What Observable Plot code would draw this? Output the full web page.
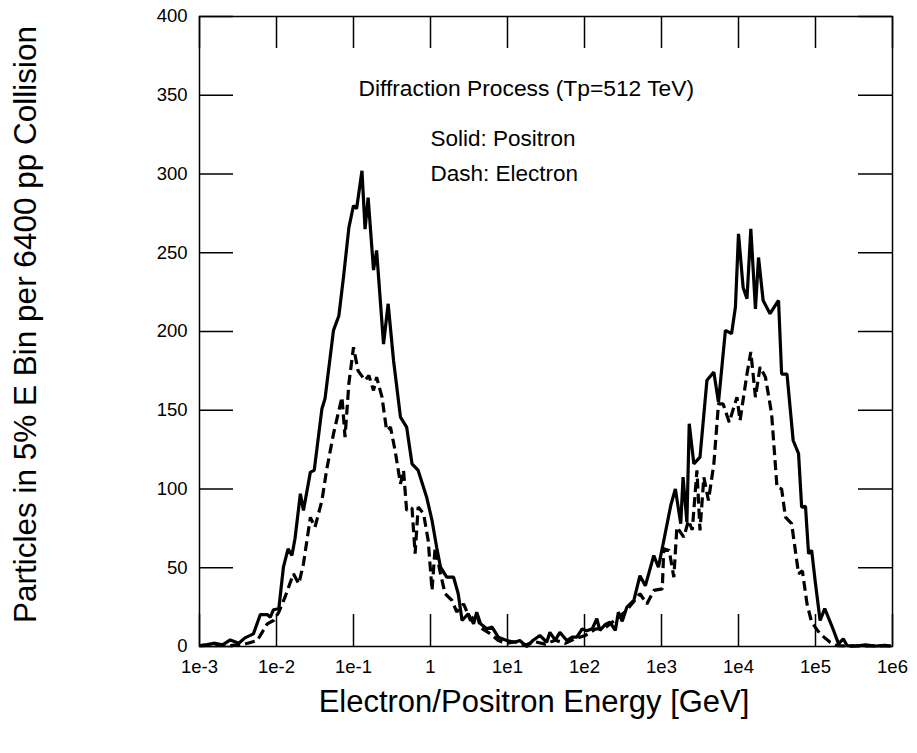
<!DOCTYPE html>
<html><head><meta charset="utf-8">
<script src="https://cdn.jsdelivr.net/npm/d3@7"></script>
<script src="https://cdn.jsdelivr.net/npm/@observablehq/plot@0.6"></script>
<style>html,body{margin:0;padding:0;background:#fff;} svg{display:block}</style>
</head><body><div id="chart"></div>
<script>
const xTicks = [1e-3, 1e-2, 1e-1, 1, 1e1, 1e2, 1e3, 1e4, 1e5, 1e6];
const xTickLabels = ["1e-3", "1e-2", "1e-1", "1", "1e1", "1e2", "1e3", "1e4", "1e5", "1e6"];
const yTicks = [0, 50, 100, 150, 200, 250, 300, 350, 400];

const xTitle = "Electron/Positron Energy [GeV]";
const yTitle = "Particles in 5% E Bin per 6400 pp Collision";
const notes = ["Diffraction Process (Tp=512 TeV)", "Solid: Positron", "Dash: Electron"];

// log10 of energy (GeV) and counts
const positronLogE = [-2.99,-2.90,-2.80,-2.70,-2.60,-2.49,-2.41,-2.30,-2.21,-2.12,-2.08,-2.04,-1.97,-1.91,-1.85,-1.80,-1.76,-1.69,-1.65,-1.56,-1.51,-1.41,-1.37,-1.26,-1.19,-1.13,-1.06,-1.00,-0.96,-0.89,-0.85,-0.81,-0.74,-0.70,-0.61,-0.55,-0.48,-0.39,-0.31,-0.24,-0.16,-0.05,0.02,0.08,0.13,0.21,0.30,0.36,0.41,0.49,0.56,0.60,0.65,0.73,0.80,0.88,0.99,1.10,1.16,1.25,1.33,1.42,1.51,1.55,1.62,1.68,1.77,1.84,1.90,1.97,2.03,2.10,2.16,2.20,2.27,2.33,2.40,2.44,2.49,2.55,2.64,2.72,2.79,2.90,2.96,3.03,3.12,3.18,3.25,3.28,3.33,3.36,3.42,3.50,3.59,3.68,3.74,3.83,3.91,3.96,4.00,4.06,4.11,4.16,4.22,4.26,4.32,4.41,4.52,4.56,4.63,4.71,4.78,4.82,4.87,4.91,4.95,5.00,5.06,5.12,5.21,5.30,5.36,5.41,5.52,5.65,5.78,5.90,5.98];
const positronCounts = [0.6,1.2,2.1,1.0,4.2,2.1,5.5,8,20.3,20.3,18.6,23.3,24,50.4,62,57.8,68.4,97,86.4,110.7,111.8,151,157.3,200.7,210,234.5,266,280,278,302,265,285,239,251.5,192,217.6,181.6,145.6,139.3,116,111.8,94.8,80,63,50.4,44,44,33.5,16.5,20.8,14.4,21.8,14.4,11.2,12.3,5.9,3.8,2.7,3.8,0,3.8,7,2.7,9,4,9,3.8,5.9,5.9,11.2,10,11.2,17.6,10.2,14,15.4,10.2,21.8,16,25,29.2,45,38.5,57.8,50.4,67.3,89.5,100,78,107.5,79,141.4,116,120.2,169,174.2,155,200.7,198.6,215.5,262,228,220.8,265.2,214.4,247,219.7,211.3,219.7,173,173,130.8,122.4,88.5,89,58.9,61,39.8,16.5,24,13.3,1.7,4.9,0.6,0.3,1,0.3,0.8,0.3];

const electronLogE = [-2.99,-2.80,-2.60,-2.41,-2.25,-2.12,-2.04,-1.97,-1.89,-1.78,-1.71,-1.65,-1.56,-1.50,-1.41,-1.35,-1.26,-1.15,-1.11,-1.06,-1.00,-0.94,-0.85,-0.80,-0.74,-0.70,-0.63,-0.57,-0.52,-0.46,-0.39,-0.35,-0.31,-0.24,-0.20,-0.16,-0.09,-0.03,0.02,0.06,0.13,0.19,0.28,0.34,0.43,0.52,0.60,0.65,0.78,0.88,0.99,1.10,1.23,1.36,1.49,1.62,1.75,1.88,2.01,2.14,2.27,2.40,2.53,2.63,2.72,2.81,2.90,3.01,3.03,3.10,3.16,3.20,3.29,3.35,3.40,3.46,3.50,3.55,3.61,3.68,3.74,3.80,3.88,3.98,4.02,4.11,4.16,4.22,4.28,4.35,4.43,4.50,4.56,4.61,4.69,4.78,4.83,4.89,4.95,5.06,5.19,5.28,5.45,5.71,5.98];
const electronCounts = [0.5,1,0.5,1.5,3.8,14.4,16.5,21.8,31.3,46.2,39.8,52.5,82,75.8,92.7,111.8,135,158.3,133,167,190,175,169,172,162.6,171,158.3,137.2,139.3,124.5,103.3,111.8,86.4,88,58.9,88.5,84.3,67.3,35.6,63,46.2,33.5,29.2,22,27,16.5,20.8,12,8,3.8,2,3,1,3,1.5,4,2,5,7,11,12,17,22,28,33.5,27,35.6,36.6,62,61,44,75.8,69.4,80,74,111.8,73.7,107.5,92.7,116,154,154,142.4,158.3,143.5,173,187,158.3,177.4,171,147.8,101,100,82.1,78,46.2,48,27,15.4,8,2.7,0.6,0.3,0.5,0.3];

const positron = positronLogE.map((l, i) => ({E: Math.pow(10, l), n: positronCounts[i]}));
const electron = electronLogE.map((l, i) => ({E: Math.pow(10, l), n: electronCounts[i]}));

const W = 917, H = 753, mL = 199, mR = 25, mT = 16, mB = 107;
const fw = W - mL - mR, fh = H - mT - mB;
const tick = 32;

const chart = Plot.plot({
  width: W, height: H,
  marginLeft: mL, marginRight: mR, marginTop: mT, marginBottom: mB,
  style: {fontFamily: "'Liberation Sans', Arial, sans-serif", background: "white", color: "black"},
  x: {type: "log", domain: [1e-3, 1e6]},
  y: {domain: [0, 400]},
  marks: [
    Plot.axisX(xTicks, {tickSize: 0, tickPadding: 13, fontSize: 18.5, label: null,
      tickFormat: d => xTickLabels[xTicks.indexOf(d)]}),
    Plot.axisY(yTicks, {tickSize: 0, tickPadding: 12, fontSize: 18.5, label: null}),
    Plot.tickX(xTicks, {x: d => d, insetTop: fh - tick, strokeWidth: 1.5}),
    Plot.tickX(xTicks, {x: d => d, insetBottom: fh - tick, strokeWidth: 1.5}),
    Plot.tickY(yTicks, {y: d => d, insetRight: fw - tick - 2, strokeWidth: 1.5}),
    Plot.tickY(yTicks, {y: d => d, insetLeft: fw - tick - 2, strokeWidth: 1.5}),
    Plot.frame({stroke: "black", strokeWidth: 1.5}),
    Plot.line(positron, {x: "E", y: "n", stroke: "black", strokeWidth: 3.2,
      strokeLinejoin: "miter", strokeLinecap: "butt"}),
    Plot.line(electron, {x: "E", y: "n", stroke: "black", strokeWidth: 3.2,
      strokeDasharray: "10,5", strokeLinejoin: "miter", strokeLinecap: "butt"}),
    Plot.text([notes[0]], {text: d => d, frameAnchor: "top-left", textAnchor: "start",
      lineAnchor: "bottom", dx: 159, dy: 79, fontSize: 22.8}),
    Plot.text([notes[1]], {text: d => d, frameAnchor: "top-left", textAnchor: "start",
      lineAnchor: "bottom", dx: 231, dy: 129, fontSize: 22.5}),
    Plot.text([notes[2]], {text: d => d, frameAnchor: "top-left", textAnchor: "start",
      lineAnchor: "bottom", dx: 231, dy: 164, fontSize: 22.5}),
    Plot.text([xTitle], {text: d => d, frameAnchor: "bottom", textAnchor: "middle",
      lineAnchor: "bottom", dx: -12, dy: 65, fontSize: 31}),
    Plot.text([yTitle], {text: d => d, frameAnchor: "left", textAnchor: "middle",
      lineAnchor: "bottom", rotate: -90, dx: -164, dy: -7, fontSize: 31.5})
  ]
});
document.getElementById("chart").appendChild(chart);
</script>
</body></html>
